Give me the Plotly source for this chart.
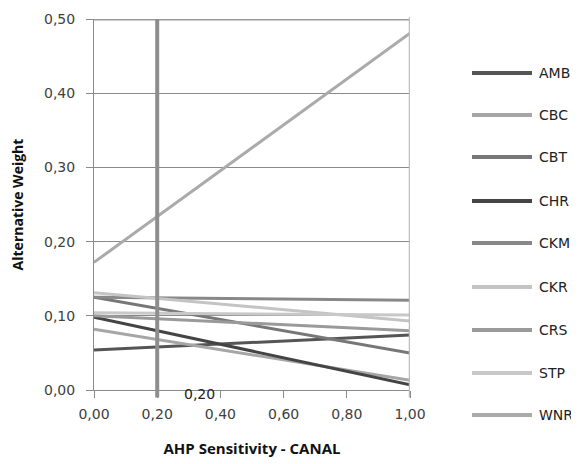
import plotly.graph_objects as go

# Data
sensitivity = [0.0, 1.0]
alternatives = ["AMB", "CBC", "CBT", "CHR", "CKM", "CKR", "CRS", "STP", "WNR"]
weights_at_0 = [0.054, 0.082, 0.125, 0.098, 0.125, 0.131, 0.100, 0.104, 0.172]
weights_at_1 = [0.074, 0.013, 0.050, 0.007, 0.121, 0.093, 0.080, 0.101, 0.481]
colors = ["#555555", "#a6a6a6", "#777777", "#444444", "#888888",
          "#c4c4c4", "#9a9a9a", "#c8c8c8", "#aaaaaa"]
current_value = 0.20
y_ticks = [0.0, 0.1, 0.2, 0.3, 0.4, 0.5]
x_ticks = [0.0, 0.2, 0.4, 0.6, 0.8, 1.0]

# page body has an 8px margin; work in page pixels and offset
OFF = 8
W, H = 579 - OFF, 464 - OFF
L, T = 94 - OFF, 19 - OFF
R = W - (410 - OFF)
B = H - (390 - OFF)
pw, ph = W - L - R, H - T - B

font_family = "DejaVu Sans"
txt_color = "#404040"

fig = go.Figure()
for name, a, b, c in zip(alternatives, weights_at_0, weights_at_1, colors):
    fig.add_trace(go.Scatter(x=sensitivity, y=[a, b], mode="lines", name=name,
                             line=dict(color=c, width=3), showlegend=False))

shapes = []
annotations = []
# top border at 0.5
shapes.append(dict(type="line", xref="paper", yref="y", x0=0, x1=1, y0=0.5, y1=0.5,
                   line=dict(color="#999999", width=3), layer="below"))
# current sensitivity vertical line
shapes.append(dict(type="line", xref="x", yref="paper", x0=current_value, x1=current_value,
                   y0=-0.02, y1=1.0, line=dict(color="#8e8e8e", width=4)))
# right edge line at x=1
shapes.append(dict(type="line", xref="x", yref="paper", x0=1.0, x1=1.0,
                   y0=-0.02, y1=1.005, line=dict(color="#b4c0c4", width=2.5)))
annotations.append(dict(x=0.335, y=0, xref="x", yref="y", text="0,20", showarrow=False,
                        yshift=-4, font=dict(family=font_family, size=14, color="#222222")))

# manual legend (page pixel positions)
leg_y_px = [73, 115, 157, 201, 243, 287, 330, 373, 415]
for name, c, py in zip(alternatives, colors, leg_y_px):
    yp = ((390 - py)) / ph
    x0 = (472 - 94) / pw
    x1 = (532 - 94) / pw
    shapes.append(dict(type="line", xref="paper", yref="paper", x0=x0, x1=x1, y0=yp, y1=yp,
                       line=dict(color=c, width=4)))
    annotations.append(dict(x=(537 - 94) / pw, y=yp, xref="paper", yref="paper", text=name,
                            showarrow=False, xanchor="left", yanchor="middle",
                            font=dict(family=font_family, size=14, color="#222222")))

fig.update_layout(
    width=W, height=H,
    margin=dict(l=L, r=R, t=T, b=B, pad=0, autoexpand=False),
    paper_bgcolor="white", plot_bgcolor="white",
    separators=",.",
    showlegend=False,
    font=dict(family=font_family, size=14, color=txt_color),
    shapes=shapes, annotations=annotations,
    xaxis=dict(range=[0, 1.0], tickvals=x_ticks, tickformat=".2f", automargin=False,
               showgrid=False, zeroline=False, showline=True, linecolor="#8a8a8a", linewidth=1,
               ticks="outside", ticklen=7, tickcolor="#8a8a8a", tickwidth=1,
               ticklabelstandoff=4,
               tickfont=dict(size=14, color=txt_color),
               title=dict(text="<b>AHP Sensitivity - CANAL</b>", standoff=22,
                          font=dict(family="Open Sans", size=15, color="#111111"))),
    yaxis=dict(range=[0, 0.5], tickvals=y_ticks, tickformat=".2f", automargin=False,
               showgrid=True, gridcolor="#8a8a8a", gridwidth=1, zeroline=False,
               showline=True, linecolor="#8a8a8a", linewidth=1,
               ticks="outside", ticklen=7, tickcolor="#8a8a8a", tickwidth=1,
               ticklabelstandoff=8,
               tickfont=dict(size=14, color=txt_color),
               title=dict(text="<b>Alternative Weight</b>", standoff=22,
                          font=dict(family="Open Sans", size=14, color="#111111"))),
)

fig.write_html("out.html")
